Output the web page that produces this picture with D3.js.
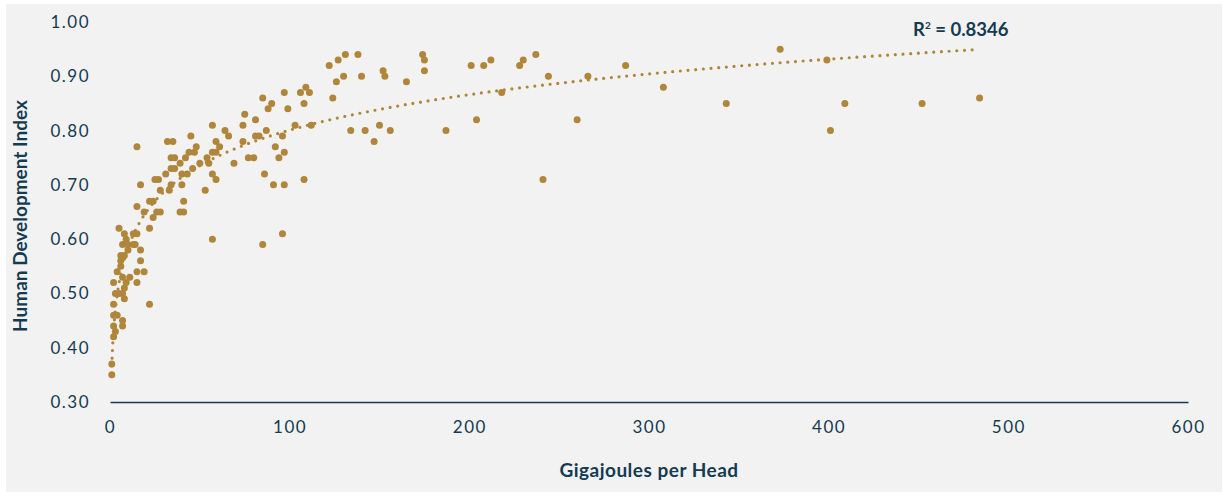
<!DOCTYPE html>
<html>
<head>
<meta charset="utf-8">
<script src="https://cdn.jsdelivr.net/npm/d3@7"></script>
<style>
  body { margin: 0; background: #ffffff; }
  svg { display: block; }
</style>
</head>
<body>
<div id="chart"></div>
<script>
// Energy use (GJ per head) vs Human Development Index, one entry per country
const gigajoules = [
  1, 1, 2, 3, 2, 7, 7, 2, 4, 2, 22, 8, 3, 5, 7, 8, 2, 9, 15, 7, 11, 4, 15, 19, 6, 6, 17, 6, 8, 10, 17,
  7, 10, 13, 14, 9, 8, 13, 15, 5, 22,
  24, 15, 19, 26, 28, 39, 41, 22, 24, 41, 28, 33, 53, 17, 34, 40, 25, 27, 59, 31, 40, 43, 57,
  34, 36, 46, 39, 50, 55, 34, 36, 42, 54, 44, 47, 57, 59, 15, 48, 61, 32, 35, 59, 45, 57,
  64, 66, 69, 74, 74, 75, 77, 80, 81, 83, 81, 85, 85, 86, 87, 88, 90, 91, 92, 94, 96, 96,
  97, 97, 97, 99, 103, 106, 108, 108, 109, 111, 112, 57,
  122, 124, 126, 127, 130, 131, 134, 138, 140, 142, 147, 150, 152, 153, 156, 165, 174, 175, 175,
  187, 201, 204, 208, 212, 218, 228, 230, 237, 241, 244, 260, 266, 287, 308, 343, 373, 399, 401,
  409, 452, 484
];
const hdi = [
  0.35, 0.37, 0.42, 0.43, 0.44, 0.44, 0.45, 0.46, 0.46, 0.48, 0.48, 0.49, 0.50, 0.50, 0.50, 0.51, 0.52, 0.52, 0.52, 0.53, 0.53, 0.54, 0.54, 0.54, 0.55, 0.56, 0.56, 0.57, 0.57, 0.58, 0.58,
  0.59, 0.59, 0.59, 0.59, 0.60, 0.61, 0.61, 0.61, 0.62, 0.62,
  0.64, 0.66, 0.65, 0.65, 0.65, 0.65, 0.65, 0.67, 0.67, 0.67, 0.69, 0.69, 0.69, 0.70, 0.70, 0.70, 0.71, 0.71, 0.71, 0.72, 0.72, 0.72, 0.72,
  0.73, 0.73, 0.73, 0.74, 0.74, 0.74, 0.75, 0.75, 0.75, 0.75, 0.76, 0.76, 0.76, 0.76, 0.77, 0.77, 0.77, 0.78, 0.78, 0.78, 0.79, 0.81,
  0.80, 0.79, 0.74, 0.78, 0.81, 0.83, 0.75, 0.75, 0.79, 0.79, 0.82, 0.86, 0.59, 0.72, 0.80, 0.84, 0.85, 0.70, 0.77, 0.75, 0.79, 0.61,
  0.87, 0.76, 0.70, 0.84, 0.81, 0.87, 0.85, 0.71, 0.88, 0.87, 0.81, 0.60,
  0.92, 0.86, 0.89, 0.93, 0.90, 0.94, 0.80, 0.94, 0.90, 0.80, 0.78, 0.81, 0.91, 0.90, 0.80, 0.89, 0.94, 0.93, 0.91,
  0.80, 0.92, 0.82, 0.92, 0.93, 0.87, 0.92, 0.93, 0.94, 0.71, 0.90, 0.82, 0.90, 0.92, 0.88, 0.85, 0.95, 0.93, 0.80,
  0.85, 0.85, 0.86
];
const xTicks = [0, 100, 200, 300, 400, 500, 600];
const yTicks = [0.30, 0.40, 0.50, 0.60, 0.70, 0.80, 0.90, 1.00];
const rSquared = "0.8346";

const width = 1228;
const height = 495;
const marginLeft = 110;
const marginRight = 40;
const marginTop = 22;
const marginBottom = 93;

const gold = '#b0863a';
const ink = '#143b51';
const font = 'Lato, "Open Sans", sans-serif';

const svg = d3.select('#chart')
  .append('svg')
  .attr('width', width)
  .attr('height', height)
  .attr('viewBox', [0, 0, width, height]);

// Grey panel behind the chart
svg.append('rect')
  .attr('x', 6)
  .attr('y', 4)
  .attr('width', 1216)
  .attr('height', 488)
  .attr('fill', '#f2f2f2');

const x = d3.scaleLinear()
  .domain([0, 600])
  .range([marginLeft, width - marginRight]);

const y = d3.scaleLinear()
  .domain([0.3, 1.0])
  .range([height - marginBottom, marginTop]);

// x axis: baseline plus labels, no tick marks
const xAxis = svg.append('g')
  .attr('transform', `translate(0,${height - marginBottom})`)
  .call(d3.axisBottom(x).tickValues(xTicks).tickSize(0).tickPadding(19).tickFormat(d3.format('d')));
xAxis.select('.domain').attr('stroke', ink).attr('stroke-width', 1.3);
xAxis.selectAll('text')
  .attr('fill', ink)
  .style('font-family', font)
  .style('font-size', '17px')
  .style('letter-spacing', '1.5px');

// y axis: labels only
const yAxis = svg.append('g')
  .attr('transform', `translate(${marginLeft},0)`)
  .call(d3.axisLeft(y).tickValues(yTicks).tickSize(0).tickPadding(20).tickFormat(d3.format('.2f')));
yAxis.select('.domain').remove();
yAxis.selectAll('text')
  .attr('fill', ink)
  .style('font-family', font)
  .style('font-size', '17px')
  .style('letter-spacing', '1.5px');

const points = gigajoules.map((g, i) => ({ g, h: hdi[i] }));

// Logarithmic trend line fitted to the points (least squares on ln x)
const lx = points.map(d => Math.log(d.g));
const mx = d3.mean(lx);
const my = d3.mean(points, d => d.h);
const slope = d3.sum(points, (d, i) => (lx[i] - mx) * (d.h - my)) / d3.sum(lx, v => (v - mx) * (v - mx));
const intercept = my - slope * mx;
const [gMin, gMax] = d3.extent(gigajoules);
const trend = d3.range(0, 401).map(i => {
  const g = gMin * Math.pow(gMax / gMin, i / 400);
  return [g, slope * Math.log(g) + intercept];
});

svg.append('path')
  .datum(trend)
  .attr('fill', 'none')
  .attr('stroke', gold)
  .attr('stroke-width', 3.2)
  .attr('stroke-linecap', 'round')
  .attr('stroke-dasharray', '0 7.7')
  .attr('d', d3.line().x(d => x(d[0])).y(d => y(d[1])));

svg.append('g')
  .attr('fill', gold)
  .selectAll('circle')
  .data(points)
  .join('circle')
  .attr('cx', d => x(d.g))
  .attr('cy', d => y(d.h))
  .attr('r', 3.5);

// R squared label
const r2 = svg.append('text')
  .attr('x', 913)
  .attr('y', 36)
  .attr('fill', ink)
  .style('font-family', font)
  .style('font-size', '18.5px')
  .style('font-weight', 'bold');
r2.append('tspan').text('R');
r2.append('tspan').attr('dy', -7).style('font-size', '10px').text('2');
r2.append('tspan').attr('dy', 7).text(` = ${rSquared}`);

// Axis titles
svg.append('text')
  .attr('x', (marginLeft + width - marginRight) / 2)
  .attr('y', 477)
  .attr('text-anchor', 'middle')
  .attr('fill', ink)
  .style('font-family', font)
  .style('font-size', '19px')
  .style('font-weight', 'bold')
  .style('letter-spacing', '0.5px')
  .text('Gigajoules per Head');

svg.append('text')
  .attr('transform', 'rotate(-90)')
  .attr('x', -(marginTop + height - marginBottom) / 2 - 4)
  .attr('y', 27)
  .attr('text-anchor', 'middle')
  .attr('fill', ink)
  .style('font-family', font)
  .style('font-size', '19px')
  .style('font-weight', 'bold')
  .text('Human Development Index');
</script>
</body>
</html>
